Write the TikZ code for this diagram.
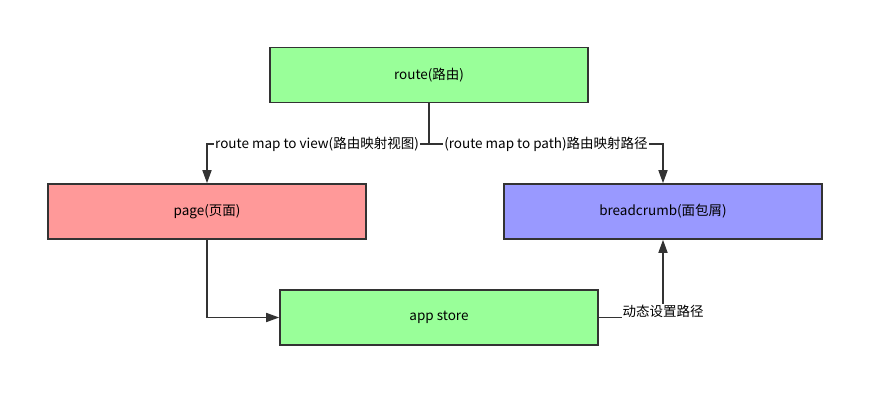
\documentclass[tikz,border=0pt]{standalone}
\usepackage{fontspec}
\setmainfont{Noto Sans CJK SC}
\usetikzlibrary{arrows.meta}
\definecolor{lgreen}{HTML}{99FF99}
\definecolor{lred}{HTML}{FF9999}
\definecolor{lblue}{HTML}{9999FF}
\definecolor{ink}{HTML}{333333}
\begin{document}
\begin{tikzpicture}[x=1pt,y=-1pt,
  box/.style={draw=ink,line width=1.6pt,minimum width=318pt,minimum height=55pt,inner sep=0pt,font=\fontsize{13.5}{15}\selectfont,text=black},
  conn/.style={draw=ink,line width=1.6pt,-{Triangle[length=13pt,width=9pt]}},
  lab/.style={fill=white,inner sep=1pt,font=\fontsize{13.5}{15}\selectfont,text=black}]
\useasboundingbox (0,0) rectangle (884,407);
\node[box,fill=lgreen] (route) at (429,75) {route(路由)};
\node[box,fill=lred] (page) at (207,211.5) {page(页面)};
\node[box,fill=lblue] (bread) at (663,211.5) {breadcrumb(面包屑)};
\node[box,fill=lgreen] (store) at (439,317.5) {app store};
\coordinate (split) at (429,144);
\draw[conn] (route.south) -- (split) -| (page.north);
\draw[conn] (split) -| (bread.north);
\node[lab] (l1) at (317,144) {route map to view(路由映射视图)};
\node[lab] (l2) at (546,144) {(route map to path)路由映射路径};
\draw[conn] (page.south) |- (store.west);
\draw[conn] (store.east) -| (bread.south);
\node[lab] (l3) at (663,311) {动态设置路径};
\end{tikzpicture}
\end{document}
